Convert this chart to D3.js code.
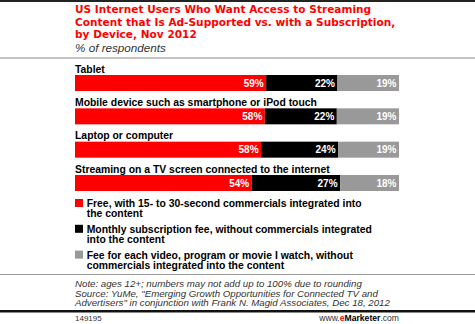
<!DOCTYPE html>
<html><head><meta charset="utf-8">
<script src="https://cdn.jsdelivr.net/npm/d3@7"></script>
<style>html,body{margin:0;padding:0;background:#fff;}svg{display:block;}</style>
</head><body>
<svg id="c" width="475" height="324"></svg>
<script>
const titleLines = ["US Internet Users Who Want Access to Streaming","Content that Is Ad-Supported vs. with a Subscription,","by Device, Nov 2012"];
const subtitle = "% of respondents";
const categories = ["Tablet","Mobile device such as smartphone or iPod touch","Laptop or computer","Streaming on a TV screen connected to the internet"];
const seriesNames = ["Free","Monthly","PerView"];
const freeValues = [59,58,58,54];
const monthlyValues = [22,22,24,27];
const perViewValues = [19,19,19,18];
const legendLabels = [
  ["Free, with 15- to 30-second commercials integrated into","the content"],
  ["Monthly subscription fee, without commercials integrated","into the content"],
  ["Fee for each video, program or movie I watch, without","commercials integrated into the content"]
];
const noteLines = ["Note: ages 12+; numbers may not add up to 100% due to rounding",
  "Source: YuMe, \"Emerging Growth Opportunities for Connected TV and",
  "Advertisers\" in conjunction with Frank N. Magid Associates, Dec 18, 2012"];
const chartId = "149195";

const colors = d3.scaleOrdinal().domain(seriesNames).range(["#ff0000","#000000","#999999"]);
const svg = d3.select("#c");
const W = 475, L = 75, R = 399;
const sans = "'Liberation Sans', Arial, sans-serif";
const verd = "'DejaVu Sans', Verdana, sans-serif";

svg.append("rect").attr("x",0).attr("y",0).attr("width",W).attr("height",2).attr("fill","#222");
// title
const tt = svg.selectAll("text.title").data(titleLines).join("text").attr("class","title")
  .attr("x",L).attr("y",(d,i)=>13.4+i*12.3)
  .attr("font-family",verd).attr("font-weight","bold").attr("font-size","10.5px").attr("fill","#ff0000").text(d=>d);
{
  const n = tt.node();
  const w = n.getComputedTextLength();
  const ls = Math.max(0,(296 - w)/(titleLines[0].length-1));
  tt.attr("letter-spacing", ls.toFixed(2)+"px");
}
svg.append("text").attr("x",L).attr("y",51.5).attr("font-family",sans).attr("font-style","italic")
  .attr("font-size","11.7px").attr("fill","#333").text(subtitle);
svg.append("rect").attr("x",0).attr("y",57).attr("width",W).attr("height",2).attr("fill","#c4c4c4");

const rows = categories.map((c,i)=>({cat:c, vals:[freeValues[i],monthlyValues[i],perViewValues[i]]}));
const y = d3.scaleBand().domain(categories).range([75,191]).paddingInner(0.52).paddingOuter(0);

rows.forEach(r=>{
  const total = d3.sum(r.vals);
  const x = d3.scaleLinear().domain([0,total]).range([L,R]);
  let acc = 0;
  const segs = r.vals.map((v,j)=>{const s={name:seriesNames[j],v,x0:acc,x1:acc+v}; acc+=v; return s;});
  const g = svg.append("g");
  g.append("text").attr("x",L).attr("y",y(r.cat)-2.3).attr("font-family",sans).attr("font-weight","bold")
    .attr("font-size","10.4px").attr("fill","#000").text(r.cat);
  g.selectAll("rect").data(segs).join("rect")
    .attr("x",d=>x(d.x0)).attr("width",d=>x(d.x1)-x(d.x0))
    .attr("y",y(r.cat)).attr("height",y.bandwidth()).attr("fill",d=>colors(d.name));
  g.selectAll("text.v").data(segs).join("text").attr("class","v")
    .attr("x",d=>x(d.x1)-2.5).attr("y",y(r.cat)+y.bandwidth()/2+3.6)
    .attr("text-anchor","end").attr("font-family",sans).attr("font-weight","bold")
    .attr("font-size","10px").attr("fill","#fff").text(d=>d.v+"%");
});

const leg = svg.selectAll("g.leg").data(seriesNames).join("g").attr("class","leg")
  .attr("transform",(d,i)=>`translate(${L},${199+i*25.8})`);
leg.append("rect").attr("x",0).attr("y",0).attr("width",8).attr("height",8).attr("fill",d=>colors(d));
leg.each(function(d,i){
  d3.select(this).selectAll("text").data(legendLabels[i]).join("text")
    .attr("x",11.7).attr("y",(t,k)=>8+k*10.3)
    .attr("font-family",sans).attr("font-weight","bold").attr("font-size","10.4px").attr("fill","#000").text(t=>t);
});

svg.append("rect").attr("x",0).attr("y",274).attr("width",W).attr("height",1).attr("fill","#999");
svg.selectAll("text.note").data(noteLines).join("text").attr("class","note")
  .attr("x",L).attr("y",(d,i)=>287+i*9.6)
  .attr("font-family",sans).attr("font-style","italic").attr("font-size","9.7px").attr("fill","#333").text(d=>d);
svg.append("rect").attr("x",0).attr("y",310).attr("width",W).attr("height",2.5).attr("fill","#111");
svg.append("text").attr("x",L).attr("y",320.5).attr("font-family",sans).attr("font-size","8px").attr("fill","#333").text(chartId);
const ft = svg.append("text").attr("x",R).attr("y",320.5).attr("text-anchor","end")
  .attr("font-family",sans).attr("font-size","8.6px").attr("fill","#333");
ft.append("tspan").text("www.");
ft.append("tspan").attr("fill","#ff0000").attr("font-weight","bold").text("e");
ft.append("tspan").attr("fill","#000").attr("font-weight","bold").text("Marketer");
ft.append("tspan").text(".com");
</script>
</body></html>
